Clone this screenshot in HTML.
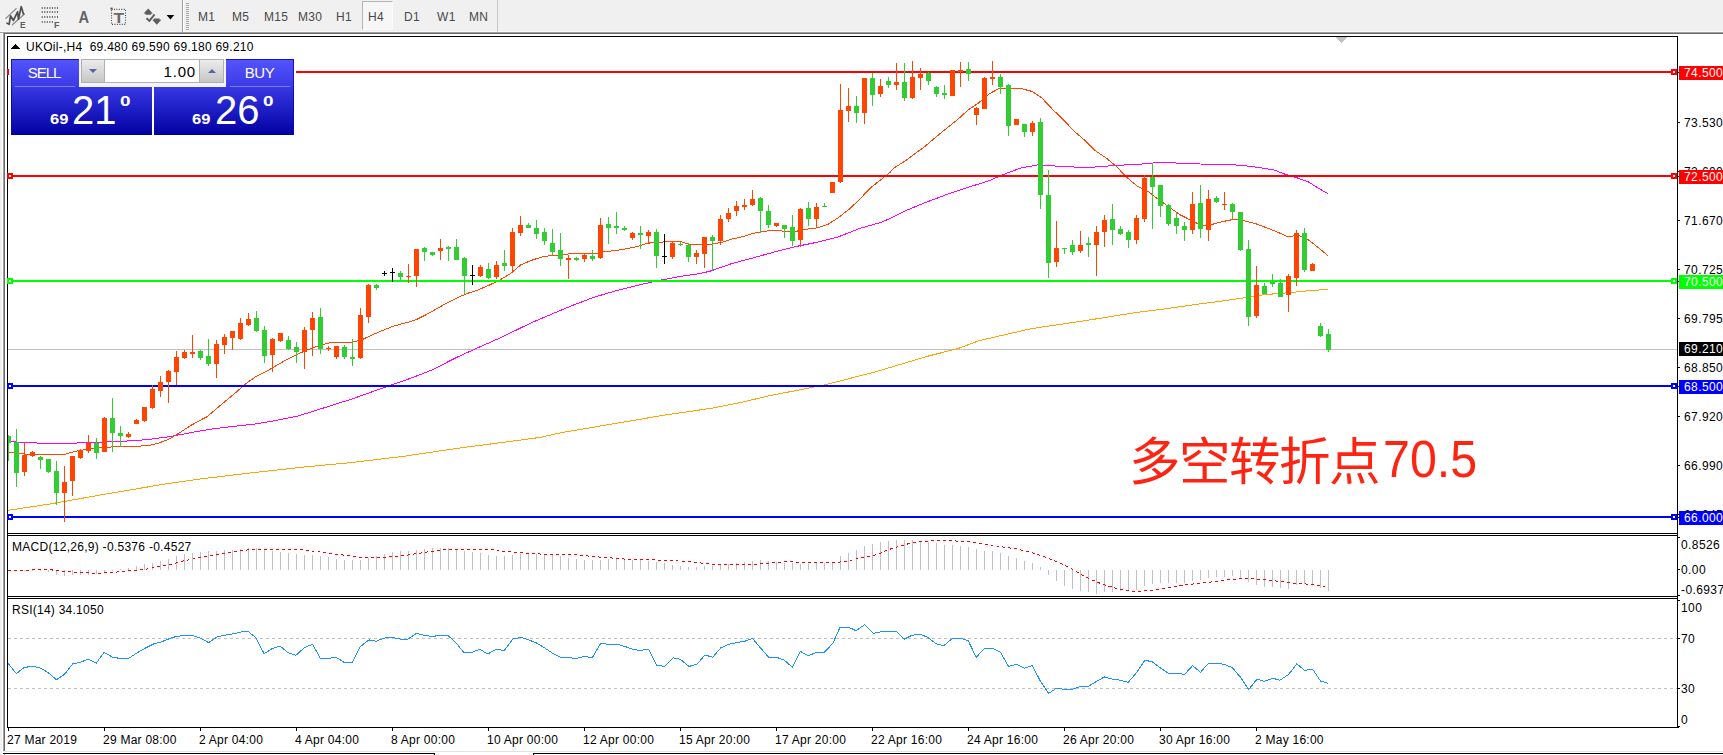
<!DOCTYPE html>
<html lang="zh"><head><meta charset="utf-8"><title>UKOil-,H4</title>
<style>
html,body{margin:0;padding:0;background:#fff;}
body{width:1723px;height:755px;position:relative;overflow:hidden;font-family:"Liberation Sans","Noto Sans CJK SC",sans-serif;font-size:12px;color:#000;}
.abs{position:absolute;white-space:nowrap;}
#tb{left:0;top:0;width:1723px;height:32px;background:#f0f0f0;}
.tf{letter-spacing:0.3px;position:absolute;top:10px;font-size:12px;color:#484848;line-height:14px;}
.ax{position:absolute;left:1684px;letter-spacing:0.4px;font-size:12px;line-height:14px;height:14px;}
.ax2{position:absolute;left:1681px;letter-spacing:0.4px;font-size:12px;line-height:14px;height:14px;}
.bx{letter-spacing:0.4px;position:absolute;left:1679px;width:44px;height:14px;font-size:12px;line-height:15px;color:#fff;padding-left:5px;box-sizing:border-box;}
.tm{letter-spacing:0.25px;position:absolute;top:733px;font-size:12px;line-height:14px;}
svg{position:absolute;left:0;top:0;}
</style></head><body>
<!-- toolbar -->
<div id="tb" class="abs"></div>
<div class="abs" style="left:0;top:31px;width:1723px;height:1px;background:#f7f7f7"></div>
<div class="abs" style="left:0;top:32px;width:1723px;height:1px;background:#a0a0a0"></div>
<div class="abs" style="left:4px;top:33px;width:1719px;height:1px;background:#696969"></div>
<div class="abs" style="left:0;top:34px;width:2px;height:721px;background:#f0f0f0"></div>
<div class="abs" style="left:3px;top:33px;width:1px;height:718px;background:#a0a0a0"></div>
<div class="abs" style="left:4px;top:33px;width:1px;height:718px;background:#696969"></div>
<div class="abs" style="left:362px;top:1px;width:31px;height:29px;border:1px solid;border-color:#b4b4b4 #fafafa #fafafa #b4b4b4;box-sizing:border-box;background:#f7f7f7"></div>
<div class="tf" style="left:198px">M1</div>
<div class="tf" style="left:232px">M5</div>
<div class="tf" style="left:264px">M15</div>
<div class="tf" style="left:298px">M30</div>
<div class="tf" style="left:336px">H1</div>
<div class="tf" style="left:368px">H4</div>
<div class="tf" style="left:404px">D1</div>
<div class="tf" style="left:437px">W1</div>
<div class="tf" style="left:469px">MN</div>
<div class="abs" style="left:182px;top:0;width:1px;height:32px;background:#a0a0a0"></div><div class="abs" style="left:183px;top:0;width:1px;height:32px;background:#fff"></div>
<div class="abs" style="left:497px;top:0;width:1px;height:32px;background:#c8c8c8"></div>
<div class="abs" style="left:186px;top:3px;width:3px;height:27px;background:repeating-linear-gradient(to bottom,#a8a8a8 0,#a8a8a8 1px,#f0f0f0 1px,#f0f0f0 2px)"></div>
<svg width="200" height="32" viewBox="0 0 200 32">
<g stroke="#8a8a8a" stroke-width="1.3" fill="none" stroke-linecap="round">
<path d="M5.8 18.4 L16.2 8.6 M12.4 24.7 L24.5 14"/>
</g>
<g stroke="#505050" stroke-width="1.7" fill="none" stroke-linecap="round" stroke-linejoin="round">
<path d="M7 23.1 L9.1 24.4 L10.5 15.8 L13.3 20.5 L17.6 11.8 L18.4 19.2 L21.2 6.6 L23.4 14"/>
</g>
<g fill="#5c5c5c" font-family="Liberation Sans,sans-serif" font-weight="bold">
<text x="19.9" y="27.8" font-size="9.6" textLength="5.6" lengthAdjust="spacingAndGlyphs">E</text>
<text x="53.9" y="27.8" font-size="9.6" textLength="5.4" lengthAdjust="spacingAndGlyphs">F</text>
<text x="78.6" y="22.6" font-size="16" fill="#646464" textLength="10.6" lengthAdjust="spacingAndGlyphs">A</text>
<text x="113.4" y="22.6" font-size="14.5" fill="#6a6a6a" textLength="10.6" lengthAdjust="spacingAndGlyphs">T</text>
</g>
<g stroke="#6e6e6e" stroke-width="2" stroke-dasharray="1.1 1.44" fill="none">
<path d="M41.7 8 H58.4 M41.7 12 H58.4 M41.7 17 H58.4 M41.7 22 H53.5"/>
</g>
<g stroke="#4a4a4a" stroke-width="1.1" stroke-dasharray="1 1.44" fill="none">
<rect x="111.5" y="9.4" width="14" height="15"/>
</g>
<rect x="110.4" y="7.6" width="2.2" height="1.8" fill="#5a5a5a"/>
<g fill="#5e5e5e">
<polygon points="148.2,8.6 152.8,13.6 151.2,13.6 151.2,14.8 145.4,14.8 145.4,13.6 143.6,13.6"/>
<polygon points="156.8,24.8 152.2,19.8 153.8,19.8 153.8,18.6 159.6,18.6 159.6,19.8 161.4,19.8"/>
<path d="M146.4 18.2 L149.4 20.8 L154.6 14.4" stroke="#5e5e5e" stroke-width="1.9" fill="none"/>
</g>
<polygon points="166.6,15 174.2,15 170.4,19.4" fill="#000"/>
</svg>
<svg width="1723" height="755" viewBox="0 0 1723 755" shape-rendering="crispEdges">
<!-- bid line -->
<rect x="8" y="349" width="1669" height="1" fill="#C0C0C0"/>
<!-- shift marker -->
<polygon points="1336,37 1347,37 1341.5,43" fill="#c0c0c0"/>
<!-- rsi levels -->
<g stroke="#C0C0C0" stroke-width="1" stroke-dasharray="3 3"><line x1="8" y1="638.5" x2="1677" y2="638.5"/><line x1="8" y1="688.5" x2="1677" y2="688.5"/></g>
<g shape-rendering="crispEdges">
<polyline points="8.0,510.3 50.0,504.0 106.0,494.0 169.5,483.3 200.0,479.0 250.0,473.0 300.0,467.4 352.0,462.5 404.5,456.2 456.7,448.4 509.0,441.6 540.0,437.4 561.0,432.7 613.5,423.8 665.7,414.9 712.7,408.1 738.9,402.9 770.0,395.6 822.5,385.4 874.7,372.1 927.0,356.4 958.0,348.6 979.0,340.7 1031.0,328.7 1083.7,320.9 1136.0,312.5 1165.0,308.9 1200.0,303.8 1212.0,302.4 1244.0,297.8 1265.0,294.6 1286.5,292.9 1308.0,290.8 1328.0,289.3" fill="none" stroke="#FFA500" stroke-width="1" /><polyline points="8.0,441.0 21.0,442.7 63.6,443.5 85.0,442.7 127.0,441.0 148.0,439.6 171.0,436.4 192.0,432.4 213.6,428.8 235.0,426.2 256.0,423.9 277.0,420.3 298.0,416.0 319.5,409.3 340.0,402.7 350.0,399.7 380.0,389.0 410.0,378.5 432.0,370.0 457.0,357.2 478.0,347.7 499.5,338.2 520.6,328.0 531.0,322.9 552.0,314.0 573.6,305.0 594.7,297.0 616.0,290.8 637.0,285.5 658.0,280.6 679.5,276.6 700.7,273.4 711.0,270.9 732.0,263.5 753.6,257.8 775.0,251.8 796.0,246.5 817.0,242.3 838.0,237.0 859.5,228.5 880.7,222.5 890.0,218.5 905.0,211.0 922.0,203.9 947.0,194.4 968.0,187.4 989.5,180.6 1002.0,175.0 1021.0,168.0 1038.0,164.9 1053.0,165.9 1074.0,167.0 1095.0,167.0 1116.5,165.3 1138.0,164.4 1155.0,162.8 1169.5,162.3 1180.0,163.4 1200.0,164.0 1230.0,164.5 1250.0,166.3 1262.0,168.0 1274.0,170.0 1285.0,174.2 1297.0,177.8 1308.0,181.7 1318.0,188.0 1328.0,193.7" fill="none" stroke="#FF00FF" stroke-width="1" /><polyline points="8.0,452.6 16.0,453.0 30.0,454.7 42.0,454.7 63.6,454.7 74.0,451.6 95.0,448.0 116.0,446.7 148.0,445.8 159.0,443.0 169.5,438.9 180.0,432.5 190.7,425.5 200.0,420.4 207.0,416.7 224.0,402.3 235.0,393.2 245.0,384.3 256.0,376.4 267.0,371.1 277.0,365.2 288.0,358.9 298.0,354.0 309.0,349.3 319.5,345.5 330.0,342.7 340.0,342.3 352.0,342.4 362.0,339.7 372.0,335.0 383.0,330.3 393.6,326.1 404.0,323.3 415.0,320.2 425.0,315.3 436.0,309.2 446.5,303.2 457.0,297.9 467.7,293.3 478.0,289.9 489.0,285.2 499.5,280.3 510.0,274.0 520.6,265.0 531.0,260.5 542.0,256.9 552.0,255.4 563.0,254.7 573.6,253.3 594.7,253.7 605.0,251.6 616.0,250.5 626.5,248.8 637.0,246.7 648.0,243.1 658.0,242.5 669.0,241.4 679.5,241.4 690.0,244.3 700.7,244.6 711.0,244.4 722.0,242.3 732.0,239.1 743.0,236.6 753.6,233.2 764.0,231.3 775.0,230.2 785.0,231.3 796.0,231.3 806.5,229.2 817.0,227.9 828.0,224.3 838.0,217.9 849.0,209.4 859.5,199.5 870.0,188.3 880.7,179.8 890.0,172.4 894.0,167.9 905.0,161.1 915.0,153.7 926.0,145.6 936.5,136.5 947.0,128.0 958.0,119.2 968.0,110.0 979.0,102.6 989.5,93.7 1000.0,88.0 1010.6,88.4 1021.0,88.6 1032.0,91.4 1042.0,98.1 1053.0,109.8 1063.6,120.0 1074.0,131.0 1085.0,140.5 1095.0,150.5 1106.0,157.9 1116.5,166.6 1127.0,177.6 1138.0,186.7 1148.0,191.4 1159.0,199.8 1169.5,207.5 1180.6,215.0 1191.0,220.4 1202.0,225.5 1212.0,224.4 1223.0,221.5 1233.6,219.4 1244.0,220.8 1255.0,223.4 1265.0,227.2 1276.0,231.4 1286.5,236.1 1292.0,236.3 1297.0,234.6 1308.0,239.5 1318.0,247.3 1328.0,255.8" fill="none" stroke="#FF4500" stroke-width="1" />
</g>
<rect x="8" y="71" width="1669" height="2" fill="#FF0000"/><rect x="8" y="175" width="1669" height="2" fill="#FF0000"/><rect x="8" y="280" width="1669" height="2" fill="#00FF00"/><rect x="8" y="385" width="1669" height="2" fill="#0000FF"/><rect x="8" y="516" width="1669" height="2" fill="#0000FF"/>
<clipPath id="cp"><rect x="8" y="37" width="1669" height="496"/></clipPath><g clip-path="url(#cp)">
<rect x="8" y="435" width="1" height="26" fill="#32CD32"/>
<rect x="6" y="436" width="5" height="7" fill="#32CD32"/>
<rect x="16" y="429" width="1" height="58" fill="#32CD32"/>
<rect x="14" y="442" width="5" height="31" fill="#32CD32"/>
<rect x="24" y="442" width="1" height="34" fill="#FF4500"/>
<rect x="22" y="455" width="5" height="17" fill="#FF4500"/>
<rect x="32" y="451" width="1" height="6" fill="#FF4500"/>
<rect x="30" y="452" width="5" height="4" fill="#FF4500"/>
<rect x="40" y="456" width="1" height="13" fill="#32CD32"/>
<rect x="38" y="457" width="5" height="3" fill="#32CD32"/>
<rect x="48" y="459" width="1" height="14" fill="#32CD32"/>
<rect x="46" y="459" width="5" height="13" fill="#32CD32"/>
<rect x="56" y="461" width="1" height="44" fill="#32CD32"/>
<rect x="54" y="471" width="5" height="22" fill="#32CD32"/>
<rect x="64" y="466" width="1" height="56" fill="#FF4500"/>
<rect x="62" y="482" width="5" height="11" fill="#FF4500"/>
<rect x="72" y="456" width="1" height="40" fill="#FF4500"/>
<rect x="70" y="456" width="5" height="25" fill="#FF4500"/>
<rect x="80" y="449" width="1" height="10" fill="#FF4500"/>
<rect x="78" y="450" width="5" height="8" fill="#FF4500"/>
<rect x="88" y="435" width="1" height="18" fill="#FF4500"/>
<rect x="86" y="443" width="5" height="8" fill="#FF4500"/>
<rect x="96" y="438" width="1" height="21" fill="#32CD32"/>
<rect x="94" y="443" width="5" height="10" fill="#32CD32"/>
<rect x="104" y="417" width="1" height="35" fill="#FF4500"/>
<rect x="102" y="418" width="5" height="34" fill="#FF4500"/>
<rect x="112" y="398" width="1" height="54" fill="#32CD32"/>
<rect x="110" y="418" width="5" height="15" fill="#32CD32"/>
<rect x="120" y="426" width="1" height="21" fill="#32CD32"/>
<rect x="118" y="433" width="5" height="3" fill="#32CD32"/>
<rect x="128" y="432" width="1" height="6" fill="#FF4500"/>
<rect x="126" y="434" width="5" height="3" fill="#FF4500"/>
<rect x="136" y="419" width="1" height="5" fill="#FF4500"/>
<rect x="134" y="420" width="5" height="4" fill="#FF4500"/>
<rect x="144" y="407" width="1" height="15" fill="#FF4500"/>
<rect x="142" y="407" width="5" height="14" fill="#FF4500"/>
<rect x="152" y="385" width="1" height="24" fill="#FF4500"/>
<rect x="150" y="389" width="5" height="19" fill="#FF4500"/>
<rect x="160" y="376" width="1" height="21" fill="#FF4500"/>
<rect x="158" y="382" width="5" height="9" fill="#FF4500"/>
<rect x="168" y="370" width="1" height="33" fill="#FF4500"/>
<rect x="166" y="371" width="5" height="11" fill="#FF4500"/>
<rect x="176" y="351" width="1" height="34" fill="#FF4500"/>
<rect x="174" y="357" width="5" height="15" fill="#FF4500"/>
<rect x="184" y="350" width="1" height="9" fill="#FF4500"/>
<rect x="182" y="352" width="5" height="6" fill="#FF4500"/>
<rect x="192" y="335" width="1" height="23" fill="#FF4500"/>
<rect x="190" y="352" width="5" height="2" fill="#FF4500"/>
<rect x="200" y="350" width="1" height="10" fill="#32CD32"/>
<rect x="198" y="351" width="5" height="7" fill="#32CD32"/>
<rect x="208" y="339" width="1" height="27" fill="#32CD32"/>
<rect x="206" y="356" width="5" height="8" fill="#32CD32"/>
<rect x="216" y="340" width="1" height="38" fill="#FF4500"/>
<rect x="214" y="344" width="5" height="20" fill="#FF4500"/>
<rect x="224" y="334" width="1" height="20" fill="#FF4500"/>
<rect x="222" y="337" width="5" height="8" fill="#FF4500"/>
<rect x="232" y="331" width="1" height="19" fill="#FF4500"/>
<rect x="230" y="331" width="5" height="7" fill="#FF4500"/>
<rect x="240" y="318" width="1" height="22" fill="#FF4500"/>
<rect x="238" y="323" width="5" height="16" fill="#FF4500"/>
<rect x="248" y="313" width="1" height="13" fill="#FF4500"/>
<rect x="246" y="319" width="5" height="6" fill="#FF4500"/>
<rect x="256" y="311" width="1" height="21" fill="#32CD32"/>
<rect x="254" y="318" width="5" height="13" fill="#32CD32"/>
<rect x="264" y="326" width="1" height="37" fill="#32CD32"/>
<rect x="262" y="330" width="5" height="26" fill="#32CD32"/>
<rect x="272" y="338" width="1" height="34" fill="#FF4500"/>
<rect x="270" y="339" width="5" height="16" fill="#FF4500"/>
<rect x="280" y="333" width="1" height="9" fill="#FF4500"/>
<rect x="278" y="333" width="5" height="8" fill="#FF4500"/>
<rect x="288" y="336" width="1" height="14" fill="#32CD32"/>
<rect x="286" y="340" width="5" height="9" fill="#32CD32"/>
<rect x="296" y="342" width="1" height="21" fill="#32CD32"/>
<rect x="294" y="347" width="5" height="5" fill="#32CD32"/>
<rect x="304" y="327" width="1" height="42" fill="#FF4500"/>
<rect x="302" y="330" width="5" height="22" fill="#FF4500"/>
<rect x="312" y="312" width="1" height="44" fill="#FF4500"/>
<rect x="310" y="318" width="5" height="12" fill="#FF4500"/>
<rect x="320" y="308" width="1" height="46" fill="#32CD32"/>
<rect x="318" y="317" width="5" height="32" fill="#32CD32"/>
<rect x="328" y="346" width="1" height="5" fill="#FF4500"/>
<rect x="326" y="348" width="5" height="1" fill="#FF4500"/>
<rect x="336" y="346" width="1" height="13" fill="#FF4500"/>
<rect x="334" y="346" width="5" height="11" fill="#FF4500"/>
<rect x="344" y="345" width="1" height="14" fill="#32CD32"/>
<rect x="342" y="347" width="5" height="10" fill="#32CD32"/>
<rect x="352" y="339" width="1" height="27" fill="#32CD32"/>
<rect x="350" y="357" width="5" height="2" fill="#32CD32"/>
<rect x="360" y="308" width="1" height="51" fill="#FF4500"/>
<rect x="358" y="315" width="5" height="43" fill="#FF4500"/>
<rect x="368" y="284" width="1" height="39" fill="#FF4500"/>
<rect x="366" y="285" width="5" height="32" fill="#FF4500"/>
<rect x="376" y="284" width="1" height="6" fill="#32CD32"/>
<rect x="374" y="285" width="5" height="3" fill="#32CD32"/>
<rect x="384" y="271" width="1" height="5" fill="#000"/>
<rect x="382" y="273" width="5" height="1" fill="#000"/>
<rect x="392" y="268" width="1" height="14" fill="#000"/>
<rect x="390" y="272" width="5" height="1" fill="#000"/>
<rect x="400" y="271" width="1" height="10" fill="#32CD32"/>
<rect x="398" y="273" width="5" height="4" fill="#32CD32"/>
<rect x="408" y="264" width="1" height="19" fill="#FF4500"/>
<rect x="406" y="276" width="5" height="1" fill="#FF4500"/>
<rect x="416" y="249" width="1" height="38" fill="#FF4500"/>
<rect x="414" y="249" width="5" height="27" fill="#FF4500"/>
<rect x="424" y="247" width="1" height="14" fill="#32CD32"/>
<rect x="422" y="248" width="5" height="4" fill="#32CD32"/>
<rect x="432" y="252" width="1" height="4" fill="#32CD32"/>
<rect x="430" y="252" width="5" height="3" fill="#32CD32"/>
<rect x="440" y="239" width="1" height="21" fill="#FF4500"/>
<rect x="438" y="248" width="5" height="3" fill="#FF4500"/>
<rect x="448" y="246" width="1" height="15" fill="#32CD32"/>
<rect x="446" y="247" width="5" height="2" fill="#32CD32"/>
<rect x="456" y="239" width="1" height="21" fill="#32CD32"/>
<rect x="454" y="247" width="5" height="13" fill="#32CD32"/>
<rect x="464" y="257" width="1" height="37" fill="#32CD32"/>
<rect x="462" y="258" width="5" height="18" fill="#32CD32"/>
<rect x="472" y="265" width="1" height="20" fill="#000"/>
<rect x="470" y="275" width="5" height="1" fill="#000"/>
<rect x="480" y="265" width="1" height="12" fill="#FF4500"/>
<rect x="478" y="267" width="5" height="9" fill="#FF4500"/>
<rect x="488" y="263" width="1" height="16" fill="#32CD32"/>
<rect x="486" y="269" width="5" height="9" fill="#32CD32"/>
<rect x="496" y="261" width="1" height="18" fill="#FF4500"/>
<rect x="494" y="265" width="5" height="12" fill="#FF4500"/>
<rect x="504" y="250" width="1" height="21" fill="#32CD32"/>
<rect x="502" y="263" width="5" height="3" fill="#32CD32"/>
<rect x="512" y="228" width="1" height="44" fill="#FF4500"/>
<rect x="510" y="232" width="5" height="34" fill="#FF4500"/>
<rect x="520" y="216" width="1" height="20" fill="#FF4500"/>
<rect x="518" y="225" width="5" height="8" fill="#FF4500"/>
<rect x="528" y="223" width="1" height="5" fill="#32CD32"/>
<rect x="526" y="225" width="5" height="3" fill="#32CD32"/>
<rect x="536" y="220" width="1" height="19" fill="#32CD32"/>
<rect x="534" y="228" width="5" height="6" fill="#32CD32"/>
<rect x="544" y="228" width="1" height="17" fill="#32CD32"/>
<rect x="542" y="232" width="5" height="9" fill="#32CD32"/>
<rect x="552" y="229" width="1" height="26" fill="#32CD32"/>
<rect x="550" y="243" width="5" height="9" fill="#32CD32"/>
<rect x="560" y="233" width="1" height="33" fill="#32CD32"/>
<rect x="558" y="250" width="5" height="9" fill="#32CD32"/>
<rect x="568" y="255" width="1" height="24" fill="#FF4500"/>
<rect x="566" y="258" width="5" height="2" fill="#FF4500"/>
<rect x="576" y="257" width="1" height="4" fill="#32CD32"/>
<rect x="574" y="258" width="5" height="2" fill="#32CD32"/>
<rect x="584" y="254" width="1" height="8" fill="#FF4500"/>
<rect x="582" y="255" width="5" height="4" fill="#FF4500"/>
<rect x="592" y="250" width="1" height="11" fill="#32CD32"/>
<rect x="590" y="256" width="5" height="3" fill="#32CD32"/>
<rect x="600" y="218" width="1" height="41" fill="#FF4500"/>
<rect x="598" y="225" width="5" height="33" fill="#FF4500"/>
<rect x="608" y="217" width="1" height="27" fill="#32CD32"/>
<rect x="606" y="224" width="5" height="4" fill="#32CD32"/>
<rect x="616" y="212" width="1" height="22" fill="#32CD32"/>
<rect x="614" y="226" width="5" height="2" fill="#32CD32"/>
<rect x="624" y="226" width="1" height="5" fill="#32CD32"/>
<rect x="622" y="228" width="5" height="2" fill="#32CD32"/>
<rect x="632" y="232" width="1" height="8" fill="#FF4500"/>
<rect x="630" y="233" width="5" height="5" fill="#FF4500"/>
<rect x="640" y="226" width="1" height="23" fill="#32CD32"/>
<rect x="638" y="233" width="5" height="2" fill="#32CD32"/>
<rect x="648" y="230" width="1" height="14" fill="#FF4500"/>
<rect x="646" y="232" width="5" height="4" fill="#FF4500"/>
<rect x="656" y="229" width="1" height="39" fill="#32CD32"/>
<rect x="654" y="232" width="5" height="24" fill="#32CD32"/>
<rect x="664" y="234" width="1" height="30" fill="#000"/>
<rect x="662" y="256" width="5" height="1" fill="#000"/>
<rect x="672" y="242" width="1" height="17" fill="#FF4500"/>
<rect x="670" y="243" width="5" height="14" fill="#FF4500"/>
<rect x="680" y="242" width="1" height="4" fill="#32CD32"/>
<rect x="678" y="244" width="5" height="1" fill="#32CD32"/>
<rect x="688" y="243" width="1" height="19" fill="#32CD32"/>
<rect x="686" y="245" width="5" height="12" fill="#32CD32"/>
<rect x="696" y="250" width="1" height="14" fill="#FF4500"/>
<rect x="694" y="253" width="5" height="4" fill="#FF4500"/>
<rect x="704" y="237" width="1" height="31" fill="#FF4500"/>
<rect x="702" y="237" width="5" height="17" fill="#FF4500"/>
<rect x="712" y="235" width="1" height="36" fill="#32CD32"/>
<rect x="710" y="237" width="5" height="4" fill="#32CD32"/>
<rect x="720" y="215" width="1" height="30" fill="#FF4500"/>
<rect x="718" y="219" width="5" height="22" fill="#FF4500"/>
<rect x="728" y="208" width="1" height="14" fill="#FF4500"/>
<rect x="726" y="213" width="5" height="6" fill="#FF4500"/>
<rect x="736" y="201" width="1" height="15" fill="#FF4500"/>
<rect x="734" y="206" width="5" height="5" fill="#FF4500"/>
<rect x="744" y="199" width="1" height="11" fill="#FF4500"/>
<rect x="742" y="205" width="5" height="2" fill="#FF4500"/>
<rect x="752" y="190" width="1" height="16" fill="#FF4500"/>
<rect x="750" y="199" width="5" height="6" fill="#FF4500"/>
<rect x="760" y="197" width="1" height="36" fill="#32CD32"/>
<rect x="758" y="198" width="5" height="13" fill="#32CD32"/>
<rect x="768" y="205" width="1" height="23" fill="#32CD32"/>
<rect x="766" y="211" width="5" height="14" fill="#32CD32"/>
<rect x="776" y="223" width="1" height="4" fill="#FF4500"/>
<rect x="774" y="223" width="5" height="3" fill="#FF4500"/>
<rect x="784" y="225" width="1" height="13" fill="#32CD32"/>
<rect x="782" y="225" width="5" height="4" fill="#32CD32"/>
<rect x="792" y="215" width="1" height="31" fill="#32CD32"/>
<rect x="790" y="227" width="5" height="14" fill="#32CD32"/>
<rect x="800" y="208" width="1" height="39" fill="#FF4500"/>
<rect x="798" y="209" width="5" height="31" fill="#FF4500"/>
<rect x="808" y="202" width="1" height="24" fill="#32CD32"/>
<rect x="806" y="208" width="5" height="11" fill="#32CD32"/>
<rect x="816" y="203" width="1" height="24" fill="#FF4500"/>
<rect x="814" y="207" width="5" height="12" fill="#FF4500"/>
<rect x="824" y="203" width="1" height="4" fill="#32CD32"/>
<rect x="822" y="206" width="5" height="1" fill="#32CD32"/>
<rect x="832" y="182" width="1" height="11" fill="#FF4500"/>
<rect x="830" y="182" width="5" height="11" fill="#FF4500"/>
<rect x="840" y="84" width="1" height="99" fill="#FF4500"/>
<rect x="838" y="110" width="5" height="72" fill="#FF4500"/>
<rect x="848" y="88" width="1" height="34" fill="#FF4500"/>
<rect x="846" y="106" width="5" height="5" fill="#FF4500"/>
<rect x="856" y="96" width="1" height="27" fill="#32CD32"/>
<rect x="854" y="106" width="5" height="7" fill="#32CD32"/>
<rect x="864" y="78" width="1" height="46" fill="#FF4500"/>
<rect x="862" y="78" width="5" height="35" fill="#FF4500"/>
<rect x="872" y="73" width="1" height="33" fill="#32CD32"/>
<rect x="870" y="78" width="5" height="17" fill="#32CD32"/>
<rect x="880" y="79" width="1" height="18" fill="#FF4500"/>
<rect x="878" y="86" width="5" height="8" fill="#FF4500"/>
<rect x="888" y="77" width="1" height="11" fill="#32CD32"/>
<rect x="886" y="81" width="5" height="4" fill="#32CD32"/>
<rect x="896" y="63" width="1" height="27" fill="#FF4500"/>
<rect x="894" y="82" width="5" height="3" fill="#FF4500"/>
<rect x="904" y="63" width="1" height="38" fill="#32CD32"/>
<rect x="902" y="82" width="5" height="16" fill="#32CD32"/>
<rect x="912" y="61" width="1" height="38" fill="#FF4500"/>
<rect x="910" y="77" width="5" height="21" fill="#FF4500"/>
<rect x="920" y="68" width="1" height="22" fill="#FF4500"/>
<rect x="918" y="74" width="5" height="4" fill="#FF4500"/>
<rect x="928" y="72" width="1" height="13" fill="#32CD32"/>
<rect x="926" y="73" width="5" height="8" fill="#32CD32"/>
<rect x="936" y="86" width="1" height="11" fill="#32CD32"/>
<rect x="934" y="87" width="5" height="7" fill="#32CD32"/>
<rect x="944" y="85" width="1" height="14" fill="#32CD32"/>
<rect x="942" y="93" width="5" height="2" fill="#32CD32"/>
<rect x="952" y="70" width="1" height="26" fill="#FF4500"/>
<rect x="950" y="70" width="5" height="26" fill="#FF4500"/>
<rect x="960" y="62" width="1" height="25" fill="#FF4500"/>
<rect x="958" y="70" width="5" height="2" fill="#FF4500"/>
<rect x="968" y="62" width="1" height="19" fill="#32CD32"/>
<rect x="966" y="69" width="5" height="5" fill="#32CD32"/>
<rect x="976" y="107" width="1" height="18" fill="#FF4500"/>
<rect x="974" y="108" width="5" height="7" fill="#FF4500"/>
<rect x="984" y="77" width="1" height="32" fill="#FF4500"/>
<rect x="982" y="78" width="5" height="31" fill="#FF4500"/>
<rect x="992" y="61" width="1" height="24" fill="#FF4500"/>
<rect x="990" y="77" width="5" height="2" fill="#FF4500"/>
<rect x="1000" y="74" width="1" height="20" fill="#32CD32"/>
<rect x="998" y="77" width="5" height="10" fill="#32CD32"/>
<rect x="1008" y="84" width="1" height="52" fill="#32CD32"/>
<rect x="1006" y="85" width="5" height="41" fill="#32CD32"/>
<rect x="1016" y="119" width="1" height="6" fill="#FF4500"/>
<rect x="1014" y="119" width="5" height="6" fill="#FF4500"/>
<rect x="1024" y="124" width="1" height="13" fill="#32CD32"/>
<rect x="1022" y="124" width="5" height="8" fill="#32CD32"/>
<rect x="1032" y="121" width="1" height="15" fill="#FF4500"/>
<rect x="1030" y="123" width="5" height="9" fill="#FF4500"/>
<rect x="1040" y="118" width="1" height="91" fill="#32CD32"/>
<rect x="1038" y="122" width="5" height="73" fill="#32CD32"/>
<rect x="1048" y="170" width="1" height="108" fill="#32CD32"/>
<rect x="1046" y="195" width="5" height="68" fill="#32CD32"/>
<rect x="1056" y="221" width="1" height="46" fill="#FF4500"/>
<rect x="1054" y="248" width="5" height="14" fill="#FF4500"/>
<rect x="1064" y="248" width="1" height="6" fill="#32CD32"/>
<rect x="1062" y="248" width="5" height="1" fill="#32CD32"/>
<rect x="1072" y="240" width="1" height="15" fill="#32CD32"/>
<rect x="1070" y="245" width="5" height="7" fill="#32CD32"/>
<rect x="1080" y="231" width="1" height="22" fill="#FF4500"/>
<rect x="1078" y="245" width="5" height="6" fill="#FF4500"/>
<rect x="1088" y="237" width="1" height="20" fill="#32CD32"/>
<rect x="1086" y="243" width="5" height="2" fill="#32CD32"/>
<rect x="1096" y="226" width="1" height="50" fill="#FF4500"/>
<rect x="1094" y="232" width="5" height="13" fill="#FF4500"/>
<rect x="1104" y="215" width="1" height="32" fill="#FF4500"/>
<rect x="1102" y="220" width="5" height="12" fill="#FF4500"/>
<rect x="1112" y="204" width="1" height="41" fill="#32CD32"/>
<rect x="1110" y="219" width="5" height="11" fill="#32CD32"/>
<rect x="1120" y="226" width="1" height="9" fill="#32CD32"/>
<rect x="1118" y="229" width="5" height="5" fill="#32CD32"/>
<rect x="1128" y="230" width="1" height="18" fill="#32CD32"/>
<rect x="1126" y="232" width="5" height="8" fill="#32CD32"/>
<rect x="1136" y="215" width="1" height="29" fill="#FF4500"/>
<rect x="1134" y="218" width="5" height="22" fill="#FF4500"/>
<rect x="1144" y="175" width="1" height="47" fill="#FF4500"/>
<rect x="1142" y="178" width="5" height="41" fill="#FF4500"/>
<rect x="1152" y="163" width="1" height="66" fill="#32CD32"/>
<rect x="1150" y="177" width="5" height="10" fill="#32CD32"/>
<rect x="1160" y="185" width="1" height="32" fill="#32CD32"/>
<rect x="1158" y="185" width="5" height="21" fill="#32CD32"/>
<rect x="1168" y="204" width="1" height="22" fill="#32CD32"/>
<rect x="1166" y="205" width="5" height="19" fill="#32CD32"/>
<rect x="1176" y="213" width="1" height="21" fill="#32CD32"/>
<rect x="1174" y="218" width="5" height="8" fill="#32CD32"/>
<rect x="1184" y="222" width="1" height="19" fill="#32CD32"/>
<rect x="1182" y="226" width="5" height="4" fill="#32CD32"/>
<rect x="1192" y="192" width="1" height="42" fill="#FF4500"/>
<rect x="1190" y="204" width="5" height="26" fill="#FF4500"/>
<rect x="1200" y="185" width="1" height="53" fill="#32CD32"/>
<rect x="1198" y="203" width="5" height="26" fill="#32CD32"/>
<rect x="1208" y="190" width="1" height="51" fill="#FF4500"/>
<rect x="1206" y="199" width="5" height="31" fill="#FF4500"/>
<rect x="1216" y="196" width="1" height="7" fill="#32CD32"/>
<rect x="1214" y="198" width="5" height="4" fill="#32CD32"/>
<rect x="1224" y="192" width="1" height="18" fill="#FF4500"/>
<rect x="1222" y="204" width="5" height="1" fill="#FF4500"/>
<rect x="1232" y="203" width="1" height="16" fill="#32CD32"/>
<rect x="1230" y="204" width="5" height="8" fill="#32CD32"/>
<rect x="1240" y="212" width="1" height="39" fill="#32CD32"/>
<rect x="1238" y="212" width="5" height="38" fill="#32CD32"/>
<rect x="1248" y="240" width="1" height="86" fill="#32CD32"/>
<rect x="1246" y="249" width="5" height="68" fill="#32CD32"/>
<rect x="1256" y="266" width="1" height="52" fill="#FF4500"/>
<rect x="1254" y="285" width="5" height="31" fill="#FF4500"/>
<rect x="1264" y="283" width="1" height="11" fill="#32CD32"/>
<rect x="1262" y="286" width="5" height="8" fill="#32CD32"/>
<rect x="1272" y="274" width="1" height="13" fill="#32CD32"/>
<rect x="1270" y="282" width="5" height="2" fill="#32CD32"/>
<rect x="1280" y="279" width="1" height="18" fill="#32CD32"/>
<rect x="1278" y="283" width="5" height="14" fill="#32CD32"/>
<rect x="1288" y="274" width="1" height="38" fill="#FF4500"/>
<rect x="1286" y="276" width="5" height="19" fill="#FF4500"/>
<rect x="1296" y="230" width="1" height="56" fill="#FF4500"/>
<rect x="1294" y="233" width="5" height="45" fill="#FF4500"/>
<rect x="1304" y="228" width="1" height="44" fill="#32CD32"/>
<rect x="1302" y="233" width="5" height="37" fill="#32CD32"/>
<rect x="1312" y="263" width="1" height="8" fill="#FF4500"/>
<rect x="1310" y="264" width="5" height="7" fill="#FF4500"/>
<rect x="1320" y="323" width="1" height="14" fill="#32CD32"/>
<rect x="1318" y="326" width="5" height="10" fill="#32CD32"/>
<rect x="1328" y="329" width="1" height="23" fill="#32CD32"/>
<rect x="1326" y="334" width="5" height="16" fill="#32CD32"/>
</g>
<!-- frames -->
<rect x="8" y="534" width="1669" height="1" fill="#fff"/><rect x="8" y="597" width="1669" height="1" fill="#fff"/>
<g fill="#000">
<rect x="7" y="36" width="1671" height="1"/><rect x="7" y="36" width="1" height="692"/><rect x="1677" y="36" width="1" height="692"/>
<rect x="7" y="533" width="1671" height="1"/><rect x="7" y="535" width="1671" height="1"/>
<rect x="7" y="596" width="1671" height="1"/><rect x="7" y="598" width="1671" height="1"/>
<rect x="7" y="727" width="1672" height="1"/>
<rect x="1678" y="122" width="2" height="1"/><rect x="1678" y="171" width="2" height="1"/><rect x="1678" y="220" width="2" height="1"/><rect x="1678" y="269" width="2" height="1"/><rect x="1678" y="318" width="2" height="1"/><rect x="1678" y="367" width="2" height="1"/><rect x="1678" y="416" width="2" height="1"/><rect x="1678" y="465" width="2" height="1"/><rect x="1678" y="514" width="2" height="1"/><rect x="1678" y="72" width="2" height="1"/><rect x="1678" y="176" width="2" height="1"/><rect x="1678" y="281" width="2" height="1"/><rect x="1678" y="386" width="2" height="1"/><rect x="1678" y="517" width="2" height="1"/><rect x="1678" y="537" width="2" height="1"/><rect x="1678" y="569" width="2" height="1"/><rect x="1678" y="595" width="2" height="1"/><rect x="1678" y="600" width="2" height="1"/><rect x="1678" y="638" width="2" height="1"/><rect x="1678" y="688" width="2" height="1"/><rect x="1678" y="726" width="2" height="1"/><rect x="8" y="728" width="1" height="3"/><rect x="104" y="728" width="1" height="3"/><rect x="200" y="728" width="1" height="3"/><rect x="296" y="728" width="1" height="3"/><rect x="392" y="728" width="1" height="3"/><rect x="488" y="728" width="1" height="3"/><rect x="584" y="728" width="1" height="3"/><rect x="680" y="728" width="1" height="3"/><rect x="776" y="728" width="1" height="3"/><rect x="872" y="728" width="1" height="3"/><rect x="968" y="728" width="1" height="3"/><rect x="1064" y="728" width="1" height="3"/><rect x="1160" y="728" width="1" height="3"/><rect x="1256" y="728" width="1" height="3"/>
</g>
<rect x="7" y="69" width="6" height="6" fill="#FF0000"/><rect x="9" y="71" width="2" height="2" fill="#fff"/><rect x="1671" y="69" width="6" height="6" fill="#FF0000"/><rect x="1673" y="71" width="2" height="2" fill="#fff"/><rect x="7" y="173" width="6" height="6" fill="#FF0000"/><rect x="9" y="175" width="2" height="2" fill="#fff"/><rect x="1671" y="173" width="6" height="6" fill="#FF0000"/><rect x="1673" y="175" width="2" height="2" fill="#fff"/><rect x="7" y="278" width="6" height="6" fill="#00FF00"/><rect x="9" y="280" width="2" height="2" fill="#fff"/><rect x="1671" y="278" width="6" height="6" fill="#00FF00"/><rect x="1673" y="280" width="2" height="2" fill="#fff"/><rect x="7" y="383" width="6" height="6" fill="#0000FF"/><rect x="9" y="385" width="2" height="2" fill="#fff"/><rect x="1671" y="383" width="6" height="6" fill="#0000FF"/><rect x="1673" y="385" width="2" height="2" fill="#fff"/><rect x="7" y="514" width="6" height="6" fill="#0000FF"/><rect x="9" y="516" width="2" height="2" fill="#fff"/><rect x="1671" y="514" width="6" height="6" fill="#0000FF"/><rect x="1673" y="516" width="2" height="2" fill="#fff"/>
<rect x="8" y="570" width="1" height="1" fill="#C0C0C0"/><rect x="16" y="570" width="1" height="1" fill="#C0C0C0"/><rect x="24" y="570" width="1" height="1" fill="#C0C0C0"/><rect x="32" y="570" width="1" height="1" fill="#C0C0C0"/><rect x="40" y="570" width="1" height="1" fill="#C0C0C0"/><rect x="48" y="570" width="1" height="2" fill="#C0C0C0"/><rect x="56" y="570" width="1" height="5" fill="#C0C0C0"/><rect x="64" y="570" width="1" height="6" fill="#C0C0C0"/><rect x="72" y="570" width="1" height="5" fill="#C0C0C0"/><rect x="80" y="570" width="1" height="5" fill="#C0C0C0"/><rect x="88" y="570" width="1" height="5" fill="#C0C0C0"/><rect x="96" y="570" width="1" height="4" fill="#C0C0C0"/><rect x="104" y="570" width="1" height="3" fill="#C0C0C0"/><rect x="112" y="570" width="1" height="1" fill="#C0C0C0"/><rect x="120" y="569" width="1" height="1" fill="#C0C0C0"/><rect x="128" y="568" width="1" height="2" fill="#C0C0C0"/><rect x="136" y="566" width="1" height="4" fill="#C0C0C0"/><rect x="144" y="564" width="1" height="6" fill="#C0C0C0"/><rect x="152" y="563" width="1" height="7" fill="#C0C0C0"/><rect x="160" y="561" width="1" height="9" fill="#C0C0C0"/><rect x="168" y="559" width="1" height="11" fill="#C0C0C0"/><rect x="176" y="556" width="1" height="14" fill="#C0C0C0"/><rect x="184" y="554" width="1" height="16" fill="#C0C0C0"/><rect x="192" y="553" width="1" height="17" fill="#C0C0C0"/><rect x="200" y="552" width="1" height="18" fill="#C0C0C0"/><rect x="208" y="551" width="1" height="19" fill="#C0C0C0"/><rect x="216" y="551" width="1" height="19" fill="#C0C0C0"/><rect x="224" y="550" width="1" height="20" fill="#C0C0C0"/><rect x="232" y="550" width="1" height="20" fill="#C0C0C0"/><rect x="240" y="549" width="1" height="21" fill="#C0C0C0"/><rect x="248" y="548" width="1" height="22" fill="#C0C0C0"/><rect x="256" y="548" width="1" height="22" fill="#C0C0C0"/><rect x="264" y="549" width="1" height="21" fill="#C0C0C0"/><rect x="272" y="551" width="1" height="19" fill="#C0C0C0"/><rect x="280" y="552" width="1" height="18" fill="#C0C0C0"/><rect x="288" y="553" width="1" height="17" fill="#C0C0C0"/><rect x="296" y="554" width="1" height="16" fill="#C0C0C0"/><rect x="304" y="555" width="1" height="15" fill="#C0C0C0"/><rect x="312" y="555" width="1" height="15" fill="#C0C0C0"/><rect x="320" y="556" width="1" height="14" fill="#C0C0C0"/><rect x="328" y="557" width="1" height="13" fill="#C0C0C0"/><rect x="336" y="559" width="1" height="11" fill="#C0C0C0"/><rect x="344" y="560" width="1" height="10" fill="#C0C0C0"/><rect x="352" y="560" width="1" height="10" fill="#C0C0C0"/><rect x="360" y="560" width="1" height="10" fill="#C0C0C0"/><rect x="368" y="558" width="1" height="12" fill="#C0C0C0"/><rect x="376" y="556" width="1" height="14" fill="#C0C0C0"/><rect x="384" y="554" width="1" height="16" fill="#C0C0C0"/><rect x="392" y="552" width="1" height="18" fill="#C0C0C0"/><rect x="400" y="551" width="1" height="19" fill="#C0C0C0"/><rect x="408" y="551" width="1" height="19" fill="#C0C0C0"/><rect x="416" y="550" width="1" height="20" fill="#C0C0C0"/><rect x="424" y="549" width="1" height="21" fill="#C0C0C0"/><rect x="432" y="548" width="1" height="22" fill="#C0C0C0"/><rect x="440" y="548" width="1" height="22" fill="#C0C0C0"/><rect x="448" y="548" width="1" height="22" fill="#C0C0C0"/><rect x="456" y="549" width="1" height="21" fill="#C0C0C0"/><rect x="464" y="551" width="1" height="19" fill="#C0C0C0"/><rect x="472" y="552" width="1" height="18" fill="#C0C0C0"/><rect x="480" y="553" width="1" height="17" fill="#C0C0C0"/><rect x="488" y="555" width="1" height="15" fill="#C0C0C0"/><rect x="496" y="556" width="1" height="14" fill="#C0C0C0"/><rect x="504" y="556" width="1" height="14" fill="#C0C0C0"/><rect x="512" y="555" width="1" height="15" fill="#C0C0C0"/><rect x="520" y="554" width="1" height="16" fill="#C0C0C0"/><rect x="528" y="553" width="1" height="17" fill="#C0C0C0"/><rect x="536" y="554" width="1" height="16" fill="#C0C0C0"/><rect x="544" y="554" width="1" height="16" fill="#C0C0C0"/><rect x="552" y="555" width="1" height="15" fill="#C0C0C0"/><rect x="560" y="556" width="1" height="14" fill="#C0C0C0"/><rect x="568" y="558" width="1" height="12" fill="#C0C0C0"/><rect x="576" y="559" width="1" height="11" fill="#C0C0C0"/><rect x="584" y="560" width="1" height="10" fill="#C0C0C0"/><rect x="592" y="560" width="1" height="10" fill="#C0C0C0"/><rect x="600" y="560" width="1" height="10" fill="#C0C0C0"/><rect x="608" y="559" width="1" height="11" fill="#C0C0C0"/><rect x="616" y="559" width="1" height="11" fill="#C0C0C0"/><rect x="624" y="559" width="1" height="11" fill="#C0C0C0"/><rect x="632" y="560" width="1" height="10" fill="#C0C0C0"/><rect x="640" y="560" width="1" height="10" fill="#C0C0C0"/><rect x="648" y="561" width="1" height="9" fill="#C0C0C0"/><rect x="656" y="562" width="1" height="8" fill="#C0C0C0"/><rect x="664" y="563" width="1" height="7" fill="#C0C0C0"/><rect x="672" y="565" width="1" height="5" fill="#C0C0C0"/><rect x="680" y="566" width="1" height="4" fill="#C0C0C0"/><rect x="688" y="567" width="1" height="3" fill="#C0C0C0"/><rect x="696" y="567" width="1" height="3" fill="#C0C0C0"/><rect x="704" y="566" width="1" height="4" fill="#C0C0C0"/><rect x="712" y="566" width="1" height="4" fill="#C0C0C0"/><rect x="720" y="565" width="1" height="5" fill="#C0C0C0"/><rect x="728" y="564" width="1" height="6" fill="#C0C0C0"/><rect x="736" y="563" width="1" height="7" fill="#C0C0C0"/><rect x="744" y="562" width="1" height="8" fill="#C0C0C0"/><rect x="752" y="561" width="1" height="9" fill="#C0C0C0"/><rect x="760" y="560" width="1" height="10" fill="#C0C0C0"/><rect x="768" y="561" width="1" height="9" fill="#C0C0C0"/><rect x="776" y="562" width="1" height="8" fill="#C0C0C0"/><rect x="784" y="563" width="1" height="7" fill="#C0C0C0"/><rect x="792" y="563" width="1" height="7" fill="#C0C0C0"/><rect x="800" y="564" width="1" height="6" fill="#C0C0C0"/><rect x="808" y="564" width="1" height="6" fill="#C0C0C0"/><rect x="816" y="563" width="1" height="7" fill="#C0C0C0"/><rect x="824" y="563" width="1" height="7" fill="#C0C0C0"/><rect x="832" y="562" width="1" height="8" fill="#C0C0C0"/><rect x="840" y="556" width="1" height="14" fill="#C0C0C0"/><rect x="848" y="553" width="1" height="17" fill="#C0C0C0"/><rect x="856" y="550" width="1" height="20" fill="#C0C0C0"/><rect x="864" y="546" width="1" height="24" fill="#C0C0C0"/><rect x="872" y="544" width="1" height="26" fill="#C0C0C0"/><rect x="880" y="542" width="1" height="28" fill="#C0C0C0"/><rect x="888" y="541" width="1" height="29" fill="#C0C0C0"/><rect x="896" y="540" width="1" height="30" fill="#C0C0C0"/><rect x="904" y="540" width="1" height="30" fill="#C0C0C0"/><rect x="912" y="540" width="1" height="30" fill="#C0C0C0"/><rect x="920" y="541" width="1" height="29" fill="#C0C0C0"/><rect x="928" y="542" width="1" height="28" fill="#C0C0C0"/><rect x="936" y="543" width="1" height="27" fill="#C0C0C0"/><rect x="944" y="545" width="1" height="25" fill="#C0C0C0"/><rect x="952" y="545" width="1" height="25" fill="#C0C0C0"/><rect x="960" y="546" width="1" height="24" fill="#C0C0C0"/><rect x="968" y="547" width="1" height="23" fill="#C0C0C0"/><rect x="976" y="549" width="1" height="21" fill="#C0C0C0"/><rect x="984" y="551" width="1" height="19" fill="#C0C0C0"/><rect x="992" y="551" width="1" height="19" fill="#C0C0C0"/><rect x="1000" y="553" width="1" height="17" fill="#C0C0C0"/><rect x="1008" y="556" width="1" height="14" fill="#C0C0C0"/><rect x="1016" y="558" width="1" height="12" fill="#C0C0C0"/><rect x="1024" y="561" width="1" height="9" fill="#C0C0C0"/><rect x="1032" y="563" width="1" height="7" fill="#C0C0C0"/><rect x="1040" y="567" width="1" height="3" fill="#C0C0C0"/><rect x="1048" y="570" width="1" height="5" fill="#C0C0C0"/><rect x="1056" y="570" width="1" height="11" fill="#C0C0C0"/><rect x="1064" y="570" width="1" height="16" fill="#C0C0C0"/><rect x="1072" y="570" width="1" height="19" fill="#C0C0C0"/><rect x="1080" y="570" width="1" height="21" fill="#C0C0C0"/><rect x="1088" y="570" width="1" height="22" fill="#C0C0C0"/><rect x="1096" y="570" width="1" height="24" fill="#C0C0C0"/><rect x="1104" y="570" width="1" height="22" fill="#C0C0C0"/><rect x="1112" y="570" width="1" height="22" fill="#C0C0C0"/><rect x="1120" y="570" width="1" height="21" fill="#C0C0C0"/><rect x="1128" y="570" width="1" height="21" fill="#C0C0C0"/><rect x="1136" y="570" width="1" height="20" fill="#C0C0C0"/><rect x="1144" y="570" width="1" height="16" fill="#C0C0C0"/><rect x="1152" y="570" width="1" height="14" fill="#C0C0C0"/><rect x="1160" y="570" width="1" height="13" fill="#C0C0C0"/><rect x="1168" y="570" width="1" height="13" fill="#C0C0C0"/><rect x="1176" y="570" width="1" height="13" fill="#C0C0C0"/><rect x="1184" y="570" width="1" height="13" fill="#C0C0C0"/><rect x="1192" y="570" width="1" height="11" fill="#C0C0C0"/><rect x="1200" y="570" width="1" height="10" fill="#C0C0C0"/><rect x="1208" y="570" width="1" height="8" fill="#C0C0C0"/><rect x="1216" y="570" width="1" height="7" fill="#C0C0C0"/><rect x="1224" y="570" width="1" height="7" fill="#C0C0C0"/><rect x="1232" y="570" width="1" height="6" fill="#C0C0C0"/><rect x="1240" y="570" width="1" height="8" fill="#C0C0C0"/><rect x="1248" y="570" width="1" height="12" fill="#C0C0C0"/><rect x="1256" y="570" width="1" height="15" fill="#C0C0C0"/><rect x="1264" y="570" width="1" height="17" fill="#C0C0C0"/><rect x="1272" y="570" width="1" height="17" fill="#C0C0C0"/><rect x="1280" y="570" width="1" height="18" fill="#C0C0C0"/><rect x="1288" y="570" width="1" height="19" fill="#C0C0C0"/><rect x="1296" y="570" width="1" height="15" fill="#C0C0C0"/><rect x="1304" y="570" width="1" height="14" fill="#C0C0C0"/><rect x="1312" y="570" width="1" height="14" fill="#C0C0C0"/><rect x="1320" y="570" width="1" height="18" fill="#C0C0C0"/><rect x="1328" y="570" width="1" height="21" fill="#C0C0C0"/>
<g shape-rendering="crispEdges">
<polyline points="7.9,570.3 50.3,569.7 63.6,571.6 92.7,573.2 106.0,572.9 121.9,571.6 145.7,569.2 158.9,566.6 172.2,563.9 185.4,560.5 198.7,557.8 211.9,555.2 225.2,553.0 238.4,551.2 251.7,549.3 264.9,549.1 291.4,549.3 304.6,550.1 317.9,551.7 331.1,553.8 344.4,555.2 357.6,557.0 370.9,557.5 384.1,557.3 397.4,556.5 410.6,554.6 423.8,552.5 437.1,550.7 440.0,549.9 466.5,549.3 493.0,549.3 506.2,551.7 524.8,553.0 546.0,554.4 572.5,554.6 598.9,557.0 625.4,559.1 651.9,559.7 678.4,561.0 694.3,562.3 712.8,564.4 731.4,564.4 752.6,564.4 771.1,563.1 784.4,561.8 810.9,562.3 837.4,562.3 847.9,561.0 855.9,559.1 863.8,557.0 874.4,555.2 880.0,553.3 887.9,549.9 895.9,547.2 903.8,545.1 911.8,542.7 919.7,541.9 933.0,540.6 946.2,540.6 964.8,541.4 980.7,543.2 999.2,546.4 1017.7,549.1 1031.0,552.5 1041.6,555.7 1052.2,559.7 1062.8,564.4 1072.1,568.9 1081.3,574.5 1091.9,579.8 1102.5,584.3 1113.1,587.5 1123.7,590.1 1137.0,591.5 1152.8,590.4 1166.1,588.3 1179.3,585.6 1197.9,583.5 1213.8,581.7 1229.7,579.5 1245.6,578.5 1261.5,579.5 1277.4,581.1 1293.2,583.0 1309.1,584.3 1325.0,586.4" fill="none" stroke="#FF0000" stroke-width="1" stroke-dasharray="3 3"/>
<polyline points="7.9,663.2 16.4,673.6 23.8,667.7 31.8,666.2 39.7,667.7 47.7,672.3 56.4,679.7 64.4,674.4 72.8,663.8 79.5,662.5 88.2,659.3 96.2,663.2 104.1,652.4 112.6,657.2 120.5,658.5 128.5,658.5 137.7,652.4 145.7,647.9 153.6,643.9 161.6,641.8 169.5,638.6 176.2,636.5 184.1,635.4 192.1,635.4 200.5,638.1 208.5,642.6 217.2,636.8 225.2,635.2 233.1,633.8 241.1,632.0 247.7,631.2 255.6,637.3 264.1,653.7 272.1,648.7 280.0,646.0 287.9,652.6 295.9,655.3 304.6,647.4 312.6,644.4 320.5,658.5 328.5,658.5 335.9,657.2 344.4,662.5 352.3,662.5 360.3,646.6 369.0,639.9 376.2,641.3 384.1,638.1 392.1,637.3 400.0,639.1 407.9,639.1 416.7,633.3 423.8,635.2 431.8,636.5 440.0,635.4 447.9,635.4 455.9,642.6 463.8,652.4 471.8,652.4 479.7,649.2 487.7,654.0 496.4,649.2 504.4,650.5 512.8,639.1 520.8,637.3 528.7,639.9 536.7,643.1 544.6,647.9 552.6,653.2 560.5,657.2 568.5,657.7 576.4,658.5 584.4,656.4 592.3,657.7 600.8,643.1 608.7,644.4 617.5,644.4 625.4,646.6 632.1,649.2 640.0,650.5 648.5,649.2 656.4,665.1 664.4,666.4 673.1,657.9 680.3,659.3 689.0,666.4 697.0,664.3 704.9,655.0 712.8,657.2 720.8,647.9 728.7,644.4 736.7,642.6 744.6,641.3 752.6,638.6 760.5,647.9 768.5,657.2 776.4,657.2 784.4,660.3 792.3,667.2 800.3,651.3 808.2,655.8 816.2,652.4 824.1,652.4 832.8,643.4 840.0,627.2 848.7,627.2 855.9,630.7 864.6,624.8 873.1,633.3 880.0,632.0 887.9,631.2 896.4,631.2 904.4,639.1 911.8,635.4 919.7,634.1 927.7,637.3 936.4,643.9 943.6,645.8 952.8,638.1 960.8,638.1 968.2,640.7 976.2,657.2 984.6,648.4 992.6,648.4 1000.5,652.4 1008.5,666.4 1016.4,664.3 1024.4,668.3 1032.3,665.6 1040.3,681.0 1048.7,693.4 1056.7,688.1 1064.6,689.5 1072.1,689.5 1080.5,686.3 1088.5,686.3 1096.4,681.5 1104.4,677.0 1112.3,679.1 1120.3,680.2 1128.2,682.3 1136.2,673.0 1144.9,660.3 1152.1,661.7 1160.8,668.3 1168.7,673.3 1176.7,673.3 1184.6,674.4 1192.6,665.6 1200.5,672.3 1208.5,663.2 1216.4,663.2 1224.4,664.3 1232.3,667.7 1240.3,677.0 1248.7,689.5 1257.0,679.1 1264.1,681.5 1272.8,678.3 1280.0,680.2 1288.7,674.4 1296.7,663.8 1304.6,670.4 1312.6,669.1 1320.5,681.0 1327.7,683.1" fill="none" stroke="#1E90FF" stroke-width="1" />
</g>
<!-- bottom tab line -->
<rect x="3" y="751" width="1720" height="1" fill="#e3e3e3"/>
<rect x="3" y="753" width="432" height="1" fill="#000"/><rect x="4" y="754" width="1" height="1" fill="#a0a0a0"/><rect x="434" y="753" width="1" height="2" fill="#000"/>
<rect x="533" y="753" width="1190" height="1" fill="#000"/><rect x="533" y="753" width="1" height="2" fill="#000"/>
</svg>
<div class="ax" style="top:116px">73.530</div>
<div class="ax" style="top:165px">72.600</div>
<div class="ax" style="top:214px">71.670</div>
<div class="ax" style="top:263px">70.725</div>
<div class="ax" style="top:312px">69.795</div>
<div class="ax" style="top:361px">68.850</div>
<div class="ax" style="top:410px">67.920</div>
<div class="ax" style="top:459px">66.990</div>
<div class="ax" style="top:508px">66.045</div>
<div class="bx" style="top:66px;background:#FF0000">74.500</div>
<div class="bx" style="top:170px;background:#FF0000">72.500</div>
<div class="bx" style="top:275px;background:#00FF00">70.500</div>
<div class="bx" style="top:342px;background:#000">69.210</div>
<div class="bx" style="top:380px;background:#0000FF">68.500</div>
<div class="bx" style="top:511px;background:#0000FF">66.000</div>
<div class="ax2" style="top:538px">0.8526</div>
<div class="ax2" style="top:563px">0.00</div>
<div class="ax2" style="top:583px">-0.6937</div>
<div class="ax2" style="top:601px">100</div>
<div class="ax2" style="top:632px">70</div>
<div class="ax2" style="top:682px">30</div>
<div class="ax2" style="top:713px">0</div>
<div class="tm" style="left:7px">27 Mar 2019</div>
<div class="tm" style="left:103px">29 Mar 08:00</div>
<div class="tm" style="left:199px">2 Apr 04:00</div>
<div class="tm" style="left:295px">4 Apr 04:00</div>
<div class="tm" style="left:391px">8 Apr 00:00</div>
<div class="tm" style="left:487px">10 Apr 00:00</div>
<div class="tm" style="left:583px">12 Apr 00:00</div>
<div class="tm" style="left:679px">15 Apr 20:00</div>
<div class="tm" style="left:775px">17 Apr 20:00</div>
<div class="tm" style="left:871px">22 Apr 16:00</div>
<div class="tm" style="left:967px">24 Apr 16:00</div>
<div class="tm" style="left:1063px">26 Apr 20:00</div>
<div class="tm" style="left:1159px">30 Apr 16:00</div>
<div class="tm" style="left:1255px">2 May 16:00</div>
<div class="abs" style="left:26px;top:40px;letter-spacing:0.27px;font-size:12px;line-height:14px">UKOil-,H4&nbsp; 69.480 69.590 69.180 69.210</div>
<svg width="30" height="60" viewBox="0 0 30 60" shape-rendering="crispEdges"><polygon points="10.6,49.4 20.4,49.4 15.5,43.6" fill="#000"/></svg>
<div class="abs" style="left:12px;top:540px;letter-spacing:0.28px;font-size:12px;line-height:14px">MACD(12,26,9) -0.5376 -0.4527</div>
<div class="abs" style="left:12px;top:603px;letter-spacing:0.25px;font-size:12px;line-height:14px">RSI(14) 34.1050</div>
<div class="abs" style="left:9px;top:57px;width:287px;height:80px;background:#fff"></div>
<div class="abs" style="left:11px;top:59px;width:68px;height:28px;background:linear-gradient(#5555ff,#3a3ae6);box-shadow:inset 1px 1px 0 #1414c4"></div>
<div class="abs" style="left:226px;top:59px;width:68px;height:28px;background:linear-gradient(#5555ff,#3a3ae6);box-shadow:inset -1px 1px 0 #1414c4"></div>
<div class="abs" style="left:79px;top:59px;width:147px;height:28px;background:#f4f4f4"></div>
<div class="abs" style="left:81px;top:59px;width:143px;height:24px;border:1px solid #b0b0b0;box-sizing:border-box;background:#fff"></div>
<div class="abs" style="left:82px;top:60px;width:23px;height:22px;background:linear-gradient(#ececec,#c6c6c6);border-right:1px solid #b0b0b0;box-sizing:border-box"></div>
<div class="abs" style="left:199px;top:60px;width:24px;height:22px;background:linear-gradient(#ececec,#c6c6c6);border-left:1px solid #b0b0b0;box-sizing:border-box"></div>
<div class="abs" style="left:89px;top:69px;width:0;height:0;border-left:4px solid transparent;border-right:4px solid transparent;border-top:4px solid #5565a8"></div>
<div class="abs" style="left:208px;top:69px;width:0;height:0;border-left:4px solid transparent;border-right:4px solid transparent;border-bottom:4px solid #5565a8"></div>
<div class="abs" style="left:106px;top:62px;width:90px;text-align:right;font-size:15px;line-height:19px;letter-spacing:0.8px">1.00</div>
<div class="abs" style="left:11px;top:87px;width:141px;height:48px;background:linear-gradient(#3838e4,#0000a2);box-shadow:inset 1px 0 0 #0a0aa8"></div>
<div class="abs" style="left:154px;top:87px;width:140px;height:48px;background:linear-gradient(#3838e4,#0000a2);box-shadow:inset -1px 0 0 #0a0aa8"></div>
<div class="abs" style="left:15px;top:86px;width:60px;height:1px;background:#7c7cf0"></div>
<div class="abs" style="left:230px;top:86px;width:60px;height:1px;background:#7c7cf0"></div>
<div class="abs" style="left:10px;top:63px;width:68px;text-align:center;font-size:15px;line-height:19px;color:#fff;letter-spacing:-1px">SELL</div>
<div class="abs" style="left:226px;top:63px;width:67px;text-align:center;font-size:15px;line-height:19px;color:#fff;letter-spacing:-0.5px">BUY</div>
<div class="abs" style="left:50px;top:111px;font-size:14px;font-weight:bold;line-height:16px;color:#fff;transform:scaleX(1.18);transform-origin:0 0">69</div>
<div class="abs" style="left:72px;top:88px;font-size:40px;line-height:44px;color:#fff">21</div>
<div class="abs" style="left:120px;top:93px;font-size:14px;font-weight:bold;line-height:16px;color:#fff;transform:scaleX(1.35);transform-origin:0 0">0</div>
<div class="abs" style="left:192px;top:111px;font-size:14px;font-weight:bold;line-height:16px;color:#fff;transform:scaleX(1.18);transform-origin:0 0">69</div>
<div class="abs" style="left:215px;top:88px;font-size:40px;line-height:44px;color:#fff">26</div>
<div class="abs" style="left:263px;top:93px;font-size:14px;font-weight:bold;line-height:16px;color:#fff;transform:scaleX(1.35);transform-origin:0 0">0</div>
<div class="abs" style="left:1129px;top:424px;font-size:50px;line-height:70px;color:#ff2312;"><span style="font-size:51.5px;letter-spacing:-1.5px;position:relative;top:2.5px">多空转折点</span><span style="display:inline-block;font-size:52px;transform:scaleX(0.93);transform-origin:0 50%;margin-left:4px">70.5</span></div>
</body></html>
